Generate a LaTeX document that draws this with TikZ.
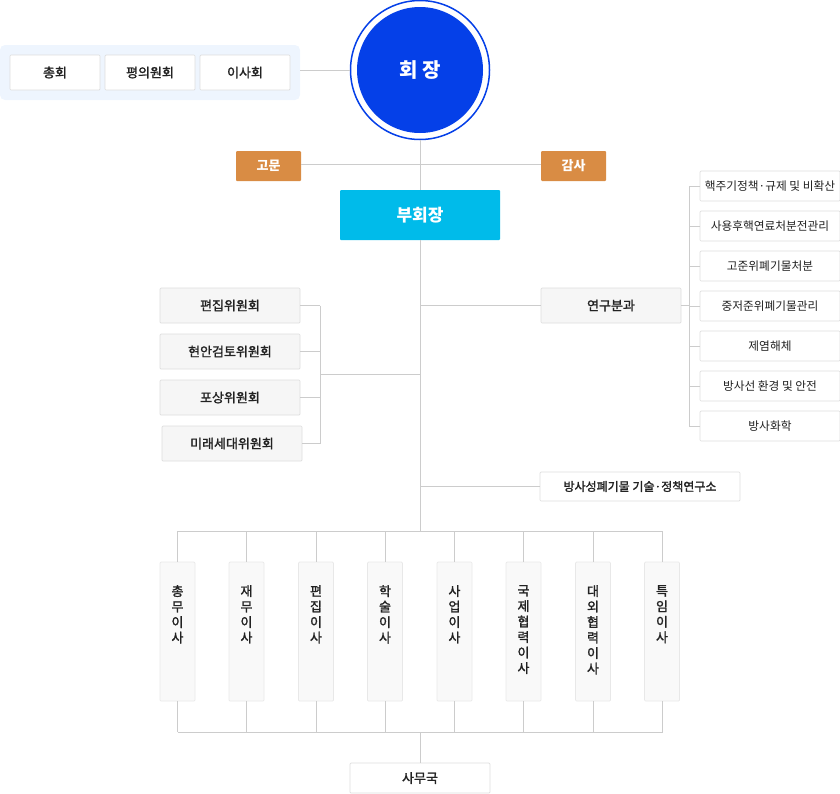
\documentclass[tikz,border=0pt]{standalone}
\usepackage{fontspec}
\setmainfont{Noto Sans CJK KR}
\newfontfamily\krmed[FakeBold=1.6]{Noto Sans CJK KR}
\begin{document}
\begin{tikzpicture}[x=1pt,y=-1pt,
  ln/.style={draw=linegray,line width=0.9pt},
  wbox/.style={draw=boxgray,fill=white,rounded corners=1pt,line width=0.7pt,inner sep=0pt,font=\fontsize{13}{15}\selectfont,text=txt},
  gbox/.style={draw=boxgray,fill=gfill,rounded corners=1pt,line width=0.7pt,inner sep=0pt,font=\fontsize{13}{15}\selectfont\krmed,text=txt},
  rbox/.style={draw=boxgray,fill=white,rounded corners=1pt,line width=0.7pt,inner sep=0pt,minimum width=140pt,minimum height=30pt,font=\fontsize{11.7}{14}\selectfont,text=txt},
  vbox/.style={draw=vgray,fill=vfill,rounded corners=1pt,line width=0.7pt,inner sep=0pt,minimum width=35pt,minimum height=139pt},
  vtxt/.style={anchor=north,align=center,inner sep=0pt,font=\fontsize{13}{15.5}\selectfont\krmed,text=txt},
  obox/.style={fill=orangec,rounded corners=1pt,inner sep=0pt,minimum width=65pt,minimum height=30pt,text=white,font=\fontsize{13}{15}\selectfont\bfseries}
]
\definecolor{linegray}{HTML}{CCCCCC}
\definecolor{boxgray}{HTML}{DDDDDD}
\definecolor{vgray}{HTML}{E8E8E8}
\definecolor{gfill}{HTML}{F6F6F6}
\definecolor{vfill}{HTML}{F9F9F9}
\definecolor{txt}{HTML}{222222}
\definecolor{bluec}{HTML}{0540E8}
\definecolor{cyanc}{HTML}{00BBEA}
\definecolor{orangec}{HTML}{D98C44}
\definecolor{lightbg}{HTML}{EEF5FE}
\useasboundingbox (0,0) rectangle (840,793);

% top-left group
\node[fill=lightbg,rounded corners=5pt,minimum width=300pt,minimum height=55pt,inner sep=0pt] (grp) at (150,72.5) {};
\node[wbox,minimum width=90pt,minimum height=35pt,font=\fontsize{13}{15}\selectfont\krmed] (chonghoe) at (55,72.5) {총회};
\node[wbox,minimum width=90pt,minimum height=35pt,font=\fontsize{13}{15}\selectfont\krmed] (pyeong) at (150,72.5) {평의원회};
\node[wbox,minimum width=90pt,minimum height=35pt,font=\fontsize{13}{15}\selectfont\krmed] (isa) at (245,72.5) {이사회};

% president
\node[circle,draw=bluec,line width=1.5pt,minimum size=139pt,inner sep=0pt] (pres) at (420,70) {};
\node[circle,fill=bluec,minimum size=126pt,inner sep=0pt,text=white,font=\fontsize{20}{24}\selectfont\bfseries] (presin) at (420,70) {회 장};

\coordinate (grpout) at (300,70);
\draw[ln] (grpout) -- (pres.west);

% advisors
\node[obox] (gomun) at (268.5,166) {고문};
\node[obox] (gamsa) at (573.5,166) {감사};
\coordinate (advj) at (420,164);
\draw[ln] (gomun.east |- advj) -- (gamsa.west |- advj);

% vice president
\node[fill=cyanc,rounded corners=1pt,minimum width=160pt,minimum height=50pt,inner sep=0pt,text=white,font=\fontsize{17}{20}\selectfont\bfseries] (vp) at (420,215) {부회장};
\draw[ln] (pres.south) -- (vp.north);

% spine
\coordinate (spineend) at (420,531);
\draw[ln] (vp.south) -- (spineend);

% committees
\node[gbox,minimum width=140pt,minimum height=35pt] (c1) at (230,305.5) {편집위원회};
\node[gbox,minimum width=140pt,minimum height=35pt] (c2) at (230,351.5) {현안검토위원회};
\node[gbox,minimum width=140pt,minimum height=35pt] (c3) at (230,397.5) {포상위원회};
\node[gbox,minimum width=140pt,minimum height=35pt] (c4) at (232,443.5) {미래세대위원회};
\coordinate (cbar1) at (320,305.5);
\coordinate (cbar4) at (320,443.5);
\coordinate (cjoin) at (320,374);
\coordinate (cspine) at (420,374);
\draw[ln] (c1.east) -- (cbar1);
\draw[ln] (c2.east) -- (c2.east -| cjoin);
\draw[ln] (c3.east) -- (c3.east -| cjoin);
\draw[ln] (c4.east) -- (cbar4);
\draw[ln] (cbar1) -- (cbar4);
\draw[ln] (cjoin) -- (cspine);

% research division
\node[gbox,minimum width=140pt,minimum height=35pt] (yeongu) at (611,305.5) {연구분과};
\coordinate (yspine) at (420,305.5);
\draw[ln] (yspine) -- (yeongu.west);

\node[rbox] (r1) at (770,186) {핵주기정책·규제 및 비확산};
\node[rbox] (r2) at (770,226) {사용후핵연료처분전관리};
\node[rbox] (r3) at (770,266) {고준위폐기물처분};
\node[rbox] (r4) at (770,306) {중저준위폐기물관리};
\node[rbox] (r5) at (770,346) {제염해체};
\node[rbox] (r6) at (770,386) {방사선 환경 및 안전};
\node[rbox] (r7) at (770,426) {방사화학};
\coordinate (rbar) at (689,305.5);
\draw[ln] (yeongu.east) -- (rbar);
\draw[ln] (r1.west -| rbar) -- (r7.west -| rbar);
\foreach \i in {1,...,7} { \draw[ln] (r\i.west -| rbar) -- (r\i.west); }

% institute
\node[wbox,minimum width=200pt,minimum height=29pt,font=\fontsize{12}{14}\selectfont\krmed] (inst) at (640,486.5) {방사성폐기물 기술·정책연구소};
\coordinate (ispine) at (420,486.5);
\draw[ln] (ispine) -- (inst.west);

% directors
\coordinate (dtopL) at (177.5,531);
\coordinate (dtopR) at (662.5,531);
\draw[ln] (dtopL) -- (dtopR);
\coordinate (dbotL) at (177.5,732);
\coordinate (dbotR) at (662.5,732);
\coordinate (dbotM) at (420,732);
\draw[ln] (dbotL) -- (dbotR);

\foreach \n/\x/\t in {d1/177.5/{총\\무\\이\\사}, d2/246.5/{재\\무\\이\\사}, d3/316/{편\\집\\이\\사}, d4/385/{학\\술\\이\\사}, d5/454.5/{사\\업\\이\\사}, d6/523.5/{국\\제\\협\\력\\이\\사}, d7/593/{대\\외\\협\\력\\이\\사}, d8/662/{특\\임\\이\\사}} {
  \node[vbox] (\n) at (\x,631.5) {};
  \node[vtxt] at (\x,585) {\t};
  \draw[ln] (\n.north |- dtopL) -- (\n.north);
  \draw[ln] (\n.south) -- (\n.south |- dbotL);
}

% secretariat
\node[wbox,minimum width=140pt,minimum height=30pt,font=\fontsize{13}{15}\selectfont\krmed] (samu) at (420,778) {사무국};
\draw[ln] (dbotM) -- (samu.north);
\end{tikzpicture}
\end{document}
